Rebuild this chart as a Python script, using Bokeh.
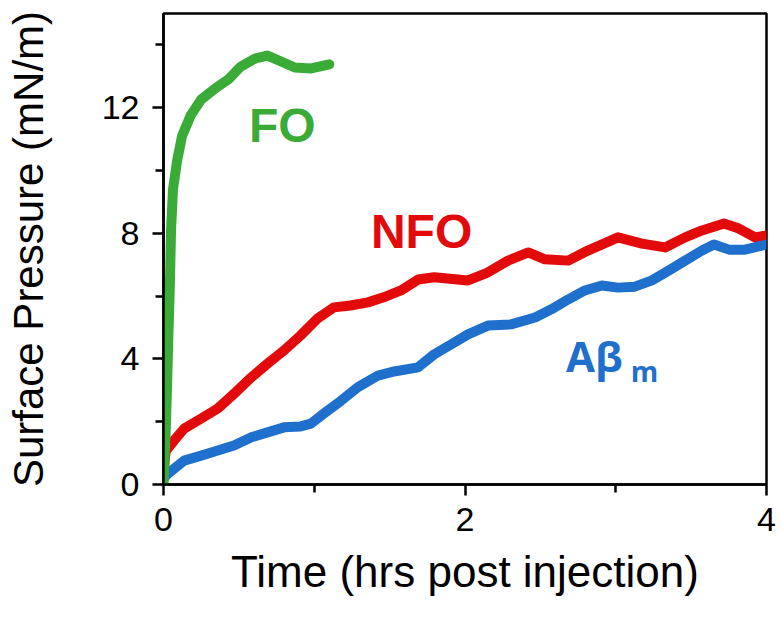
from bokeh.plotting import figure
from bokeh.models import FixedTicker, Range1d, Label
from bokeh.embed import file_html
from bokeh.resources import INLINE

# ---- data ----
fo_t = [0.0, 0.017, 0.03, 0.043, 0.05, 0.063, 0.09, 0.123, 0.18, 0.25, 0.35, 0.43,
        0.51, 0.61, 0.69, 0.78, 0.87, 0.98, 1.10]
fo_v = [0.0, 2.0, 4.3, 6.5, 8.1, 9.4, 10.3, 11.1, 11.75, 12.26, 12.64, 12.9,
        13.3, 13.57, 13.66, 13.47, 13.28, 13.25, 13.38]

nfo_t = [0.0, 0.01, 0.017, 0.07, 0.137, 0.25, 0.36, 0.47, 0.58, 0.69, 0.80, 0.91,
         1.025, 1.13, 1.24, 1.356, 1.46, 1.575, 1.69, 1.795, 2.02, 2.15, 2.285,
         2.42, 2.53, 2.685, 2.815, 3.015, 3.174, 3.327, 3.46, 3.572, 3.718, 3.817,
         3.924, 4.0]
nfo_v = [0.3, 0.9, 1.08, 1.4, 1.78, 2.1, 2.42, 2.9, 3.4, 3.85, 4.27, 4.75,
         5.3, 5.64, 5.7, 5.8, 5.96, 6.18, 6.53, 6.6, 6.5, 6.75, 7.13,
         7.39, 7.17, 7.13, 7.45, 7.87, 7.67, 7.55, 7.87, 8.09, 8.31, 8.15,
         7.87, 7.93]

ab_t = [0.0, 0.03, 0.137, 0.25, 0.36, 0.467, 0.58, 0.69, 0.80, 0.91, 0.978, 1.064,
        1.178, 1.29, 1.423, 1.53, 1.688, 1.794, 1.907, 2.02, 2.152, 2.305, 2.465,
        2.57, 2.683, 2.795, 2.908, 3.015, 3.127, 3.24, 3.353, 3.46, 3.572, 3.652,
        3.751, 3.857, 4.0]
ab_v = [0.2, 0.35, 0.76, 0.92, 1.08, 1.24, 1.5, 1.66, 1.82, 1.85, 1.94, 2.26,
        2.67, 3.1, 3.47, 3.6, 3.73, 4.14, 4.46, 4.78, 5.06, 5.1, 5.32,
        5.57, 5.89, 6.18, 6.34, 6.27, 6.3, 6.5, 6.82, 7.13, 7.45, 7.64,
        7.48, 7.48, 7.64]

x_major = [0, 2, 4]
x_minor = [1, 3]
y_major = [0, 4, 8, 12]
y_minor = [2, 6, 10, 14]

GREEN = "#3aab37"
RED = "#e20a0a"
BLUE = "#1f6fcc"
FONT = "Liberation Sans"

p = figure(width=781, height=620, output_backend="svg", toolbar_location=None,
           x_range=Range1d(0, 4), y_range=Range1d(0, 15),
           min_border_left=163, min_border_right=15, min_border_top=13,
           min_border_bottom=136)
p.background_fill_color = "white"
p.border_fill_color = "white"
p.grid.visible = False
p.outline_line_color = "black"
p.outline_line_width = 2.5
p.outline_line_alpha = 1.0

p.xaxis.ticker = FixedTicker(ticks=x_major, minor_ticks=x_minor)
p.yaxis.ticker = FixedTicker(ticks=y_major, minor_ticks=y_minor)

for ax in (p.xaxis[0], p.yaxis[0]):
    ax.axis_line_width = 2.5
    ax.axis_line_color = "black"
    ax.major_tick_line_width = 2.5
    ax.minor_tick_line_width = 2.5
    ax.major_tick_line_color = "black"
    ax.minor_tick_line_color = "black"
    ax.major_tick_in = 0
    ax.major_tick_out = 11
    ax.minor_tick_in = 0
    ax.minor_tick_out = 8
    ax.major_label_text_font = FONT
    ax.major_label_text_font_size = "34px"
    ax.major_label_text_color = "black"
    ax.axis_label_text_font = FONT
    ax.axis_label_text_font_style = "normal"
    ax.axis_label_text_color = "black"

p.xaxis.axis_label_text_font_size = "44px"
p.yaxis.axis_label_text_font_size = "42px"
p.xaxis.axis_label = "Time (hrs post injection)"
p.yaxis.axis_label = "Surface Pressure (mN/m)"
p.xaxis.major_label_standoff = 12
p.xaxis.axis_label_standoff = 13
p.yaxis.major_label_standoff = 13
p.yaxis.axis_label_standoff = 47

LW = 10
p.line(nfo_t, nfo_v, line_width=LW, color=RED, line_cap="round", line_join="round")
p.line(ab_t, ab_v, line_width=LW, color=BLUE, line_cap="round", line_join="round")
p.line(fo_t, fo_v, line_width=LW, color=GREEN, line_cap="round", line_join="round")

p.add_layout(Label(x=0.567, y=11.44, text="FO", text_font=FONT, text_font_style="bold",
                   text_font_size="48px", text_color=GREEN, text_baseline="alphabetic"))
p.add_layout(Label(x=1.376, y=8.06, text="NFO", text_font=FONT, text_font_style="bold",
                   text_font_size="48px", text_color=RED, text_baseline="alphabetic"))
p.add_layout(Label(x=2.67, y=4.11, text="Aβ", text_font="Open Sans", text_font_style="bold",
                   text_font_size="42px", text_color=BLUE, text_baseline="alphabetic"))
p.add_layout(Label(x=3.10, y=3.63, text="m", text_font="Open Sans", text_font_style="bold",
                   text_font_size="28px", text_color=BLUE, text_baseline="alphabetic"))

open("out.html", "w").write(file_html(p, INLINE))
